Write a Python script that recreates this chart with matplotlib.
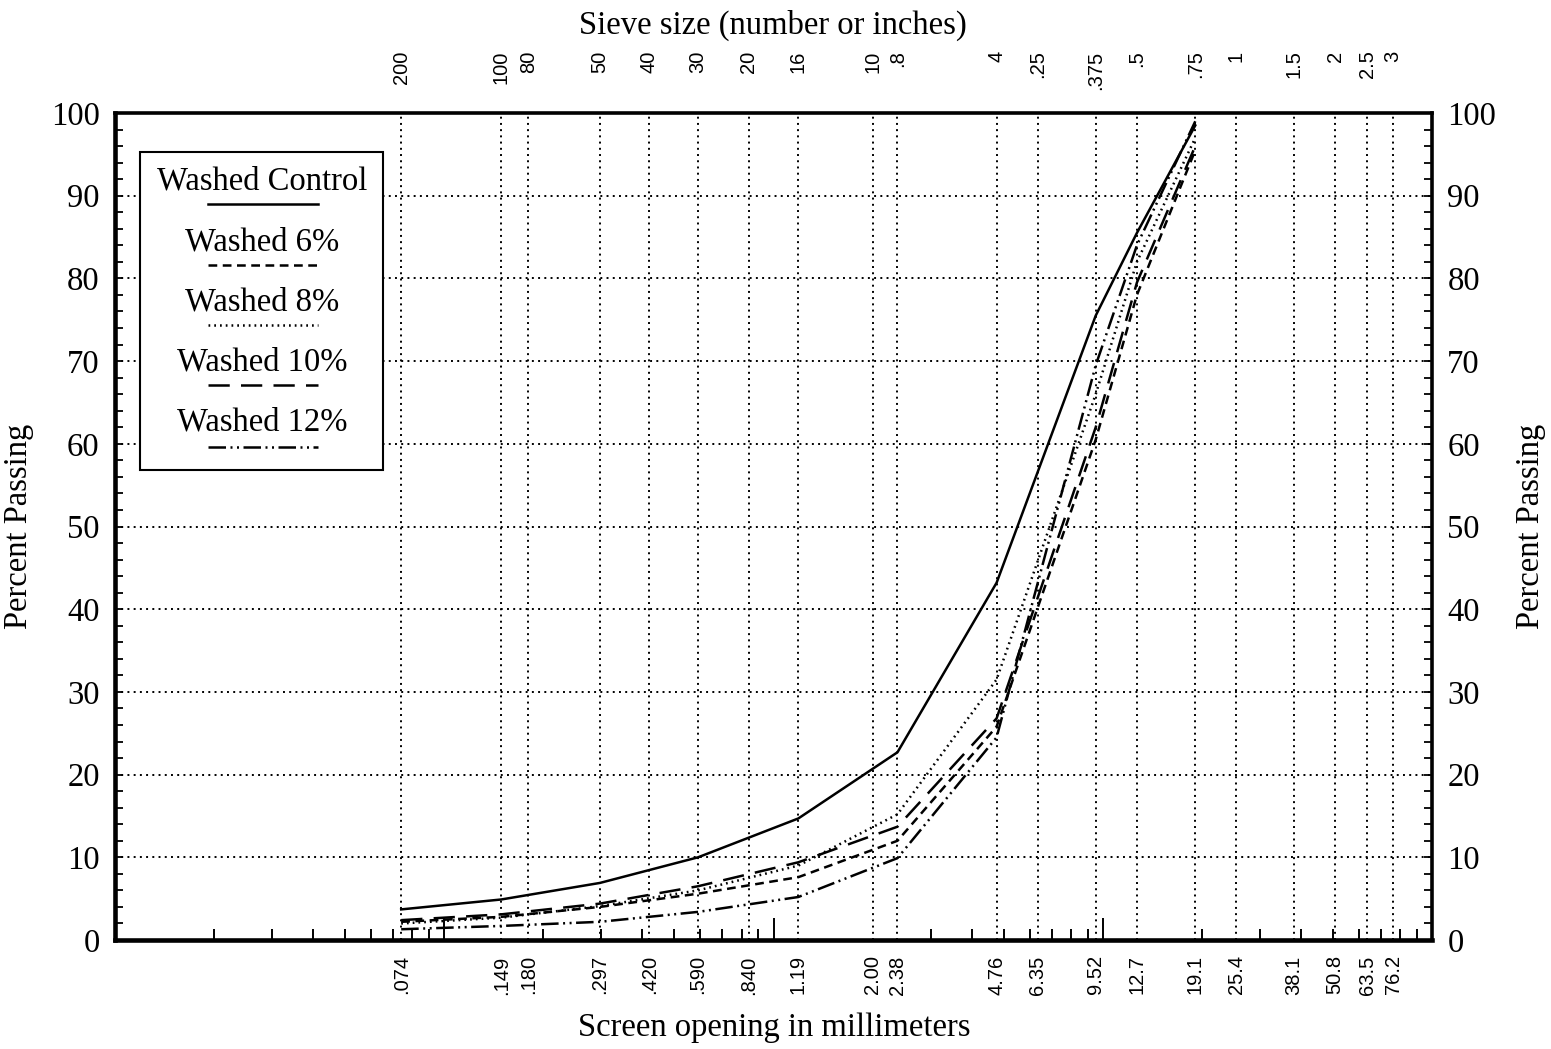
import numpy as np
import matplotlib
matplotlib.use("Agg")
import matplotlib.pyplot as plt
from matplotlib.ticker import LogLocator, NullFormatter, FixedLocator, MultipleLocator
from matplotlib.lines import Line2D

# ---- data ----
sieve_mm = [0.074, 0.149, 0.297, 0.590, 1.19, 2.38, 4.76, 9.52, 12.7, 19.1]
control = [3.7, 4.9, 6.9, 10.0, 14.7, 22.7, 43.2, 75.5, 85.5, 98.5]
washed6 = [2.2, 2.8, 4.0, 5.6, 7.6, 12.0, 25.8, 60.5, 78.0, 95.5]
washed8 = [2.0, 2.7, 4.1, 6.0, 9.0, 15.2, 31.5, 66.0, 82.0, 97.0]
washed10 = [2.4, 3.1, 4.4, 6.5, 9.4, 13.7, 26.8, 62.0, 79.5, 96.0]
washed12 = [1.3, 1.7, 2.2, 3.4, 5.2, 9.9, 24.5, 69.5, 84.0, 99.0]

grid_mm = [0.074, 0.149, 0.180, 0.297, 0.420, 0.590, 0.840, 1.19, 2.00, 2.38,
           4.76, 6.35, 9.52, 12.7, 19.1, 25.4, 38.1, 50.8, 63.5, 76.2]
bottom_labels = [".074", ".149", ".180", ".297", ".420", ".590", ".840", "1.19", "2.00", "2.38",
                 "4.76", "6.35", "9.52", "12.7", "19.1", "25.4", "38.1", "50.8", "63.5", "76.2"]
top_labels = ["200", "100", "80", "50", "40", "30", "20", "16", "10", ".8",
              "4", ".25", ".375", ".5", ".75", "1", "1.5", "2", "2.5", "3"]

series_names = ["Washed Control", "Washed 6%", "Washed 8%", "Washed 10%", "Washed 12%"]
series_vals = [control, washed6, washed8, washed10, washed12]
styles = ["-", (0, (3.5, 2.2)), (0, (0.7, 1.6)), (0, (8.5, 4.5)), (0, (7, 1.8, 0.8, 1.8, 0.8, 1.8))]

SERIF = "Liberation Serif"
SANS = "Liberation Sans"
LW = 1.8

fig = plt.figure(figsize=(15.51, 10.49), dpi=100)
ax = fig.add_axes([115/1551, 1-940/1049, (1432-115)/1551, (940-113)/1049])

for vals, ls in zip(series_vals, styles):
    ax.plot(sieve_mm, vals, color="black", lw=LW, linestyle=ls)

ax.set_xscale("log")
ax.set_xlim(0.01, 100)
ax.set_ylim(0, 100)

# x: sieve gridlines & labels
ax.xaxis.set_major_locator(FixedLocator(grid_mm))
ax.set_xticklabels(bottom_labels, rotation=90, fontfamily=SANS, fontsize=14.5)
ax.xaxis.set_minor_locator(LogLocator(base=10, subs=np.arange(2, 10)))
ax.xaxis.set_minor_formatter(NullFormatter())
ax.tick_params(axis="x", which="major", length=0, pad=11)
ax.tick_params(axis="x", which="minor", direction="in", length=8, width=1.4, top=False)

# y
ax.yaxis.set_major_locator(MultipleLocator(10))
ax.yaxis.set_minor_locator(MultipleLocator(2))
ax.tick_params(axis="y", which="both", direction="in", length=6, width=1.3,
               left=True, right=True, labelleft=True, labelright=True,
               labelsize=23.5, pad=11)
for lab in ax.get_yticklabels():
    lab.set_fontfamily(SERIF)

ax.grid(True, which="major", color="black", linestyle=(0, (1, 2.2)), lw=1.4)

for s in ax.spines.values():
    s.set_linewidth(2.6)
ax.spines["left"].set_linewidth(3.3)
ax.spines["bottom"].set_linewidth(3.3)

# longer decade ticks
dec = ax.secondary_xaxis("bottom")
dec.xaxis.set_major_locator(FixedLocator([0.1, 1, 10]))
dec.xaxis.set_minor_locator(FixedLocator([]))
dec.set_xticklabels(["", "", ""])
dec.tick_params(axis="x", which="major", direction="in", length=16, width=1.4)
dec.spines["bottom"].set_visible(False)

# top sieve labels
top = ax.secondary_xaxis("top")
top.xaxis.set_major_locator(FixedLocator(grid_mm))
top.xaxis.set_minor_locator(FixedLocator([]))
top.set_xticklabels(top_labels, rotation=90, fontfamily=SANS, fontsize=14.5)
top.tick_params(axis="x", which="major", length=0, pad=45)
for lab in top.get_xticklabels():
    lab.set_verticalalignment("top")
top.spines["top"].set_visible(False)

ax.set_ylabel("Percent Passing", fontfamily=SERIF, fontsize=23.5, labelpad=12)
ry = ax.secondary_yaxis("right")
ry.set_yticks([])
ry.spines["right"].set_visible(False)
ry.set_ylabel("Percent Passing", fontfamily=SERIF, fontsize=23.5, labelpad=60, rotation=90)

fig.text(0.498, 1-25/1049, "Sieve size (number or inches)", ha="center", va="center",
         fontfamily=SERIF, fontsize=23.5)
fig.text(0.499, 1-1028/1049, "Screen opening in millimeters", ha="center", va="center",
         fontfamily=SERIF, fontsize=23.5)

# legend box (text above line sample)
lx0, lx1 = (140-115)/1317, (383-115)/1317
ly0, ly1 = (940-470)/827, (940-152)/827
rect = plt.Rectangle((lx0, ly0), lx1-lx0, ly1-ly0, transform=ax.transAxes,
                     facecolor="white", edgecolor="black", lw=1.5, zorder=5)
ax.add_patch(rect)
cx = (262-115)/1317
text_y = [181, 242, 302, 362, 422]
line_y = [204, 265, 325, 385, 447]
for name, ls, ty, lyp in zip(series_names, styles, text_y, line_y):
    ax.text(cx, (940-ty)/827, name, transform=ax.transAxes, ha="center", va="center",
            fontfamily=SERIF, fontsize=23.5, zorder=6)
    yy = (940-lyp)/827
    ln = Line2D([(208-115)/1317, (318-115)/1317], [yy, yy], transform=ax.transAxes,
                color="black", lw=LW, linestyle=ls, zorder=6)
    ax.add_line(ln)

fig.savefig("out.png", dpi=100)
